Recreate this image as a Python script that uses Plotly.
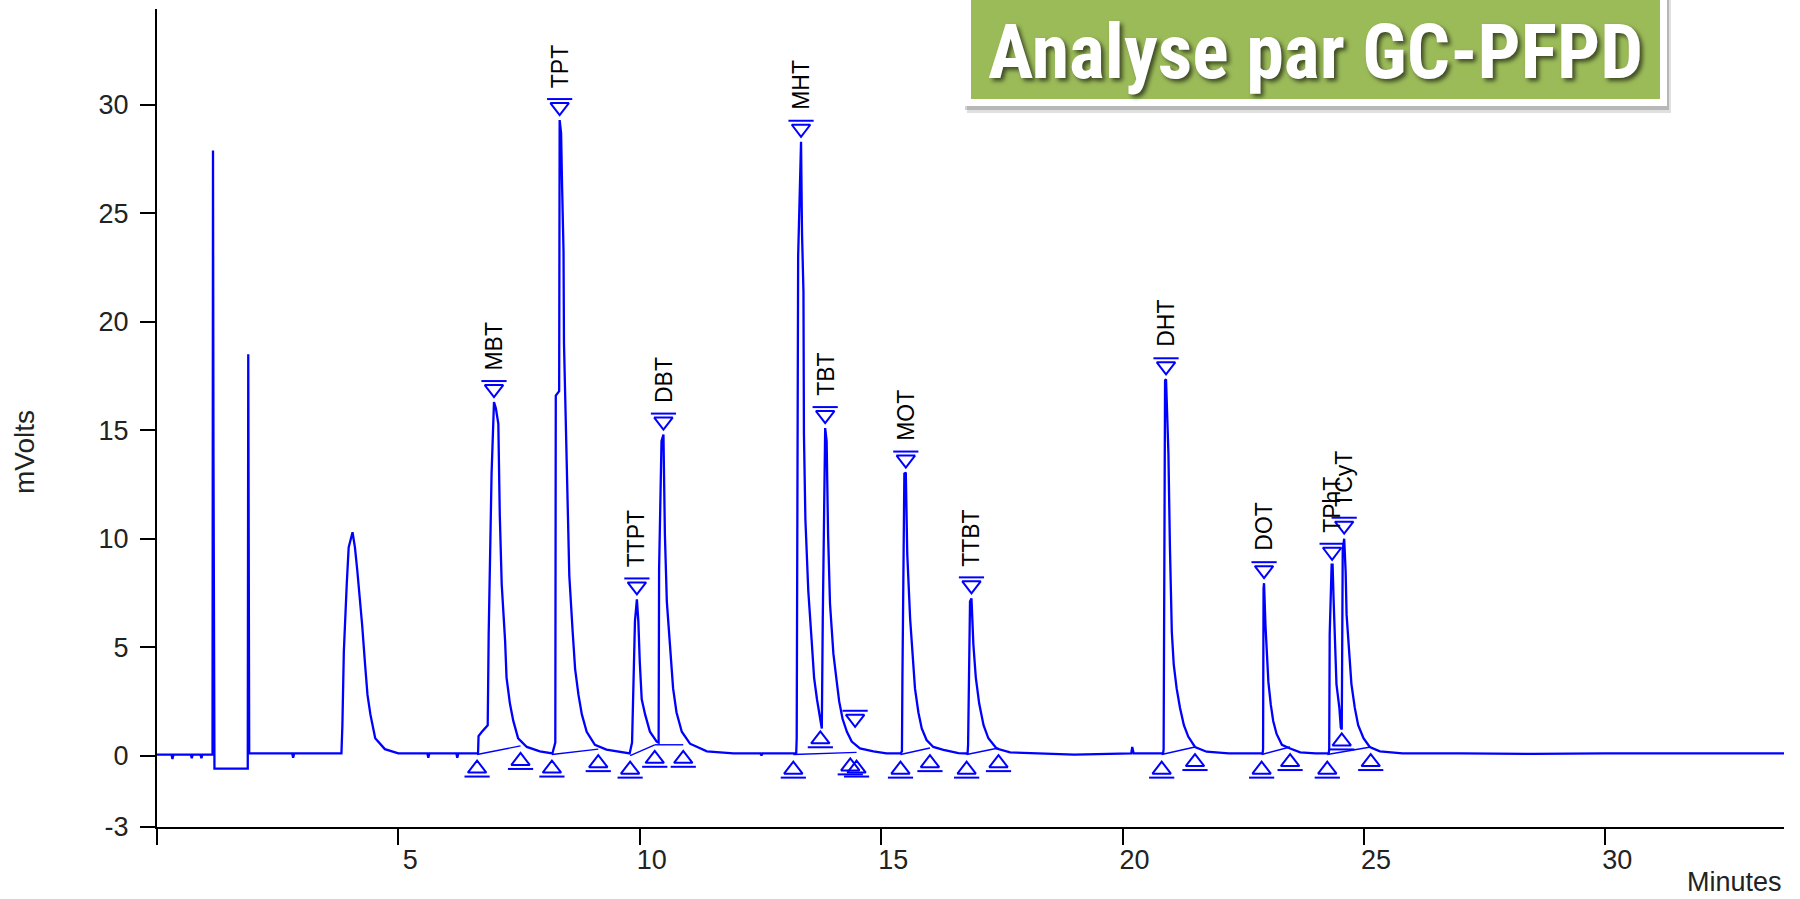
import plotly.graph_objects as go

# ---------------- data ----------------
signal_time = [
    0.00, 0.30, 0.32, 0.34, 0.70, 0.72, 0.74, 0.90, 0.92, 0.94, 1.15, 1.16, 1.17, 1.19, 1.88, 1.89, 1.90, 1.91,
    2.80, 2.82, 2.84, 3.82, 3.84, 3.87, 3.93, 3.97, 4.05, 4.10, 4.15, 4.21, 4.25, 4.31, 4.36, 4.42, 4.52, 4.72, 5.00,
    5.60, 5.62, 5.64, 6.20, 6.22, 6.24,
    6.65, 6.66, 6.73, 6.85, 6.87, 6.93, 6.98, 7.02, 7.07, 7.10, 7.14, 7.21, 7.24, 7.31, 7.38, 7.48, 7.66, 7.93, 8.19,
    8.25, 8.26, 8.33, 8.34, 8.37, 8.39, 8.42, 8.43, 8.45, 8.49, 8.54, 8.61, 8.66, 8.73, 8.80, 8.90, 9.07, 9.31, 9.73,
    9.79, 9.84, 9.90, 9.94, 9.97, 10.00, 10.04, 10.11, 10.21, 10.35,
    10.39, 10.40, 10.45, 10.49, 10.52, 10.56, 10.63, 10.69, 10.76, 10.87, 11.04, 11.39, 11.94, 12.50, 12.52, 12.54, 13.18,
    13.24, 13.25, 13.28, 13.34, 13.36, 13.39, 13.40, 13.43, 13.49, 13.56, 13.61, 13.67, 13.72, 13.77,
    13.79, 13.84, 13.87, 13.90, 13.94, 14.01, 14.08, 14.13, 14.20, 14.29, 14.39, 14.56, 14.84, 15.11, 15.40,
    15.43, 15.44, 15.48, 15.51, 15.54, 15.60, 15.65, 15.70, 15.77, 15.84, 15.94, 16.08, 16.29, 16.60, 16.79,
    16.80, 16.84, 16.87, 16.91, 16.96, 17.03, 17.12, 17.22, 17.39, 17.67, 18.20, 19.00, 20.18, 20.20, 20.23, 20.84,
    20.85, 20.86, 20.88, 20.90, 20.95, 20.98, 21.02, 21.06, 21.12, 21.19, 21.27, 21.36, 21.50, 21.74, 22.20, 22.90,
    22.91, 22.92, 22.93, 22.96, 22.98, 23.02, 23.07, 23.12, 23.19, 23.30, 23.47, 23.68, 24.00, 24.27,
    24.28, 24.29, 24.33, 24.35, 24.37, 24.40, 24.43, 24.49, 24.52,
    24.54, 24.56, 24.59, 24.62, 24.64, 24.70, 24.74, 24.81, 24.88, 24.99, 25.12, 25.33, 25.80, 27.00, 28.50, 30.00, 33.70,
]
signal_mv = [
    0.05, 0.05, -0.15, 0.05, 0.05, -0.12, 0.05, 0.05, -0.12, 0.05, 0.05, 27.9, 13.6, -0.6, -0.6, 18.5, 9.2, 0.1,
    0.1, -0.1, 0.1, 0.1, 1.4, 4.8, 7.9, 9.6, 10.3, 9.6, 8.5, 7.1, 6.0, 4.2, 2.8, 1.9, 0.8, 0.3, 0.1,
    0.1, -0.1, 0.1, 0.1, -0.1, 0.1,
    0.1, 0.9, 1.1, 1.4, 5.6, 13.0, 16.3, 16.0, 15.3, 11.1, 7.9, 5.3, 3.6, 2.4, 1.6, 0.8, 0.4, 0.2, 0.1,
    0.6, 16.6, 16.8, 29.3, 28.7, 26.3, 23.3, 19.0, 17.1, 12.5, 8.3, 5.7, 4.0, 2.8, 1.9, 1.1, 0.5, 0.28, 0.1,
    0.1, 0.6, 6.2, 7.2, 6.2, 4.3, 2.6, 1.9, 1.1, 0.65,
    0.6, 8.6, 14.5, 14.8, 10.2, 7.1, 4.7, 3.1, 2.0, 1.1, 0.55, 0.2, 0.1, 0.1, 0.0, 0.1, 0.1,
    0.1, 0.8, 23.0, 28.3, 24.1, 21.4, 14.8, 10.9, 7.6, 5.3, 3.6, 2.6, 1.9, 1.25,
    6.3, 15.1, 14.5, 10.2, 7.0, 4.7, 3.4, 2.5, 1.7, 1.1, 0.65, 0.33, 0.2, 0.1, 0.1,
    0.2, 3.6, 13.0, 13.05, 9.3, 6.3, 4.5, 3.1, 2.0, 1.25, 0.72, 0.4, 0.27, 0.12, 0.1,
    0.5, 7.1, 7.25, 5.1, 3.6, 2.4, 1.4, 0.8, 0.33, 0.15, 0.1, 0.05, 0.1, 0.4, 0.1, 0.1,
    0.3, 11.1, 17.3, 17.35, 13.9, 9.7, 5.7, 4.2, 3.1, 2.2, 1.4, 0.88, 0.4, 0.18, 0.1, 0.1,
    0.3, 7.7, 7.95, 6.0, 4.9, 3.4, 2.35, 1.6, 1.0, 0.5, 0.33, 0.15, 0.1, 0.1,
    0.3, 5.6, 8.8, 8.8, 7.25, 5.1, 3.3, 2.2, 1.3,
    1.2, 9.5, 10.0, 8.5, 6.5, 4.5, 3.3, 2.2, 1.4, 0.8, 0.4, 0.2, 0.1, 0.1, 0.08, 0.1, 0.1,
]

peak_names = ["MBT", "TPT", "TTPT", "DBT", "MHT", "TBT", "", "MOT", "TTBT", "DHT", "DOT", "TPhT", "TCyT"]
peak_time = [6.98, 8.34, 9.94, 10.49, 13.34, 13.84, 14.46, 15.51, 16.87, 20.90, 22.93, 24.34, 24.59]
peak_mv = [16.3, 29.3, 7.2, 14.8, 28.3, 15.1, 1.1, 13.05, 7.25, 17.35, 7.95, 8.8, 10.0]

bound_time = [6.63, 7.53, 8.18, 9.14, 9.80, 10.31, 10.90, 13.18, 13.74, 14.36, 14.49, 15.40, 16.01,
              16.77, 17.43, 20.81, 21.50, 22.88, 23.47, 24.24, 24.54, 25.14]
bound_mv = [0.05, 0.4, 0.05, 0.3, 0.0, 0.5, 0.5, 0.0, 1.4, 0.15, 0.05, 0.0, 0.3,
            0.0, 0.3, 0.0, 0.35, 0.0, 0.35, 0.0, 1.3, 0.35]

# integrator baselines (start, end) per peak group
base_start_time = [6.63, 8.18, 9.80, 10.31, 13.18, 15.40, 16.77, 20.81, 22.88, 24.24]
base_start_mv = [0.05, 0.05, 0.0, 0.5, 0.05, 0.05, 0.05, 0.05, 0.05, 0.05]
base_end_time = [7.53, 9.14, 10.31, 10.90, 14.49, 16.01, 17.43, 21.50, 23.47, 25.14]
base_end_mv = [0.45, 0.3, 0.5, 0.5, 0.15, 0.35, 0.35, 0.4, 0.4, 0.4]

x_tick_vals = [0, 5, 10, 15, 20, 25, 30]
x_tick_text = ["", "5", "10", "15", "20", "25", "30"]
y_tick_vals = [-3.29, 0, 5, 10, 15, 20, 25, 30]
y_tick_text = ["-3", "0", "5", "10", "15", "20", "25", "30"]

title_text = "Analyse par GC-PFPD"
x_title = "Minutes"
y_title = "mVolts"

# ---------------- layout geometry ----------------
W, H = 1800, 899
ML, MR, MT, MB = 157, 16, 9, 72
X_RANGE = [0, 33.7]
Y_RANGE = [-3.29, 34.42]
plot_w = W - ML - MR
plot_h = H - MT - MB
px_per_mv = plot_h / (Y_RANGE[1] - Y_RANGE[0])


def px_to_paper_x(px):
    return (px - ML) / plot_w


def px_to_paper_y(py):
    return (H - MB - py) / plot_h


BLUE = "#0000FF"
FONT = "Liberation Sans, Arial, sans-serif"
MK_LINE = dict(width=2, color=BLUE)

fig = go.Figure()

# integration baselines
bx, by = [], []
for a, b, c, d in zip(base_start_time, base_start_mv, base_end_time, base_end_mv):
    bx += [a, c, None]
    by += [b, d, None]
fig.add_trace(go.Scatter(x=bx, y=by, mode="lines", line=dict(color=BLUE, width=1.4),
                         hoverinfo="skip", showlegend=False))

# signal
fig.add_trace(go.Scatter(x=signal_time, y=signal_mv, mode="lines",
                         line=dict(color=BLUE, width=2.3), showlegend=False))

# peak apex markers: stem + down triangle + top bar
px_ = [t for t in peak_time]
fig.add_trace(go.Scatter(
    x=px_, y=[v + 13 / px_per_mv for v in peak_mv], mode="markers",
    marker=dict(symbol="triangle-down-open", size=16, color=BLUE, line=MK_LINE),
    hoverinfo="skip", showlegend=False))
fig.add_trace(go.Scatter(
    x=px_, y=[v + 21 / px_per_mv for v in peak_mv], mode="markers",
    marker=dict(symbol="line-ew-open", size=18, color=BLUE, line=MK_LINE),
    hoverinfo="skip", showlegend=False))

# peak boundary markers: up triangle + bottom bar below the baseline point
fig.add_trace(go.Scatter(
    x=bound_time, y=[v - 14 / px_per_mv for v in bound_mv], mode="markers",
    marker=dict(symbol="triangle-up-open", size=16, color=BLUE, line=MK_LINE),
    hoverinfo="skip", showlegend=False))
fig.add_trace(go.Scatter(
    x=bound_time, y=[v - 22 / px_per_mv for v in bound_mv], mode="markers",
    marker=dict(symbol="line-ew-open", size=18, color=BLUE, line=MK_LINE),
    hoverinfo="skip", showlegend=False))

annotations = []
for name, t, v in zip(peak_names, peak_time, peak_mv):
    if not name:
        continue
    annotations.append(dict(x=t, y=v, xref="x", yref="y", text=name, showarrow=False,
                            textangle=-90, xanchor="center", yanchor="bottom", yshift=30,
                            font=dict(family=FONT, size=23, color="black")))

annotations.append(dict(x=1, y=0, xref="paper", yref="paper", text=x_title, showarrow=False,
                        xanchor="right", yanchor="top", yshift=-38,
                        font=dict(family=FONT, size=27, color="#222")))
annotations.append(dict(x=0, y=px_to_paper_y(452), xref="paper", yref="paper", text=y_title,
                        showarrow=False, textangle=-90, xanchor="center", yanchor="middle",
                        xshift=-(ML - 24), font=dict(family=FONT, size=28, color="#222")))

# title box
box_l, box_r, box_t, box_b = 964, 1667, -6, 106
inner_l, inner_r, inner_b = 971, 1660, 99
shapes = [
    dict(type="rect", xref="paper", yref="paper", layer="above",
         x0=px_to_paper_x(box_l + 3), x1=px_to_paper_x(box_r + 4),
         y0=px_to_paper_y(box_b + 7), y1=px_to_paper_y(box_t),
         fillcolor="rgba(0,0,0,0.12)", line=dict(width=0)),
    dict(type="rect", xref="paper", yref="paper", layer="above",
         x0=px_to_paper_x(box_l + 1), x1=px_to_paper_x(box_r + 2),
         y0=px_to_paper_y(box_b + 4), y1=px_to_paper_y(box_t),
         fillcolor="rgba(0,0,0,0.18)", line=dict(width=0)),
    dict(type="rect", xref="paper", yref="paper", layer="above",
         x0=px_to_paper_x(box_l), x1=px_to_paper_x(box_r),
         y0=px_to_paper_y(box_b), y1=px_to_paper_y(box_t),
         fillcolor="white", line=dict(width=0)),
    dict(type="rect", xref="paper", yref="paper", layer="above",
         x0=px_to_paper_x(inner_l), x1=px_to_paper_x(inner_r),
         y0=px_to_paper_y(inner_b), y1=px_to_paper_y(box_t),
         fillcolor="#9BBB59", line=dict(width=0)),
]
annotations.append(dict(x=px_to_paper_x((inner_l + inner_r) / 2), y=px_to_paper_y(52),
                        xref="paper", yref="paper", text=title_text, showarrow=False,
                        xanchor="center", yanchor="middle",
                        font=dict(family="Liberation Sans Narrow, Roboto Condensed, Liberation Sans",
                                  size=76, color="white", weight="bold",
                                  shadow="3px 3px 4px rgba(0,0,0,0.6)")))

fig.update_layout(
    width=W, height=H, margin=dict(l=ML, r=MR, t=MT, b=MB, pad=0),
    paper_bgcolor="white", plot_bgcolor="white",
    shapes=shapes, annotations=annotations, showlegend=False,
    xaxis=dict(range=X_RANGE, showgrid=False, zeroline=False, showline=True,
               linecolor="black", linewidth=2, ticks="outside", ticklen=16, tickwidth=2,
               tickcolor="black", tickvals=x_tick_vals, ticktext=x_tick_text,
               tickfont=dict(family=FONT, size=27, color="#222"), ticklabelshift=12,
               ticklabelstandoff=-8),
    yaxis=dict(range=Y_RANGE, showgrid=False, zeroline=False, showline=True,
               linecolor="black", linewidth=2, ticks="outside", ticklen=15, tickwidth=2,
               tickcolor="black", tickvals=y_tick_vals, ticktext=y_tick_text,
               tickfont=dict(family=FONT, size=27, color="#222"), ticklabelstandoff=6),
)

fig.write_html("out.html")
